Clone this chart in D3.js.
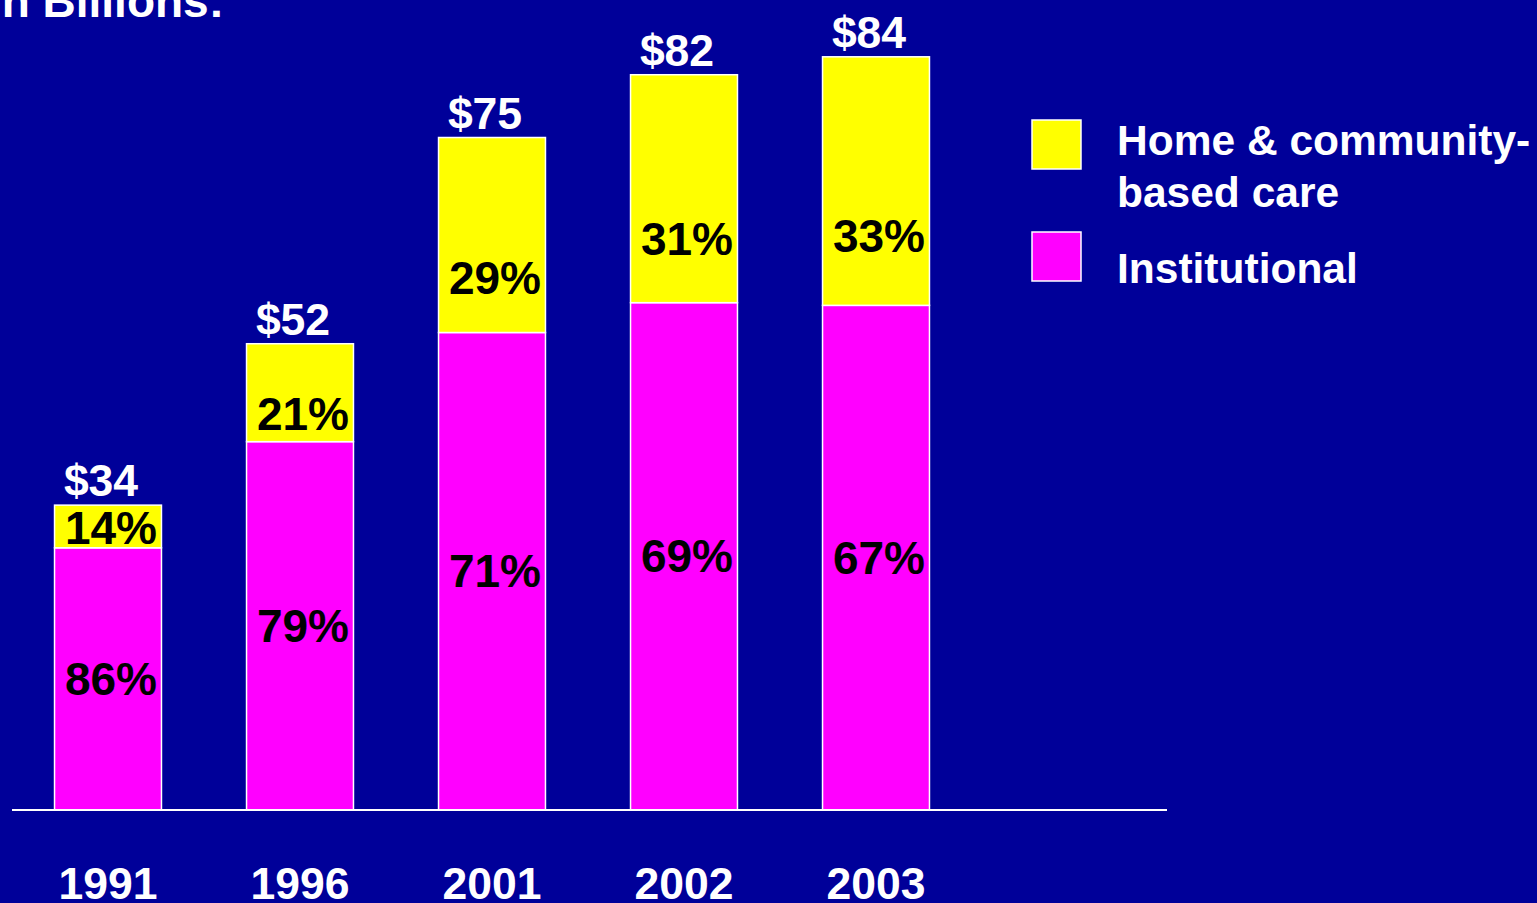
<!DOCTYPE html>
<html>
<head>
<meta charset="utf-8">
<script src="https://cdn.jsdelivr.net/npm/d3@7"></script>
<style>
  html, body { margin: 0; padding: 0; background: #000099; overflow: hidden; }
  svg { display: block; }
</style>
</head>
<body>
<div id="chart"></div>
<script>
// chart data
const years = ["1991", "1996", "2001", "2002", "2003"];
const totals = [34, 52, 75, 82, 84];
const institutionalPct = [86, 79, 71, 69, 67];
const homePct = [14, 21, 29, 31, 33];
const seriesNames = ["Home & community-based care", "Institutional"];

const width = 1537;
const height = 903;
const baseY = 810;

const svg = d3.select("#chart").append("svg")
    .attr("width", width)
    .attr("height", height)
    .style("font-family", "'Liberation Sans', Arial, sans-serif")
    .style("font-weight", "bold");

svg.append("rect")
    .attr("width", width)
    .attr("height", height)
    .attr("fill", "#000099");

// build rows from arrays
let data = years.map((y, i) => ({
    year: y,
    total: totals[i],
    inst: totals[i] * institutionalPct[i] / 100,
    instPct: institutionalPct[i],
    homePct: homePct[i]
}));

const xScale = d3.scaleBand()
    .domain(years)
    .range([12, 972])
    .paddingInner(0.443)
    .paddingOuter(0.2215);

const yScale = d3.scaleLinear()
    .domain([0, 90])
    .range([baseY, 3]);

const g = svg.append("g");

// institutional segment
g.selectAll(".inst")
    .data(data)
    .enter().append("rect")
        .attr("class", "inst")
        .attr("x", d => xScale(d.year))
        .attr("y", d => yScale(d.inst))
        .attr("width", xScale.bandwidth())
        .attr("height", d => yScale(0) - yScale(d.inst))
        .attr("fill", "#ff00ff")
        .attr("stroke", "#ffffff")
        .attr("stroke-width", 1.5);

// home & community segment
g.selectAll(".home")
    .data(data)
    .enter().append("rect")
        .attr("class", "home")
        .attr("x", d => xScale(d.year))
        .attr("y", d => yScale(d.total))
        .attr("width", xScale.bandwidth())
        .attr("height", d => yScale(d.inst) - yScale(d.total))
        .attr("fill", "#ffff00")
        .attr("stroke", "#ffffff")
        .attr("stroke-width", 1.5);

// baseline
g.append("line")
    .attr("x1", 12)
    .attr("x2", 1167)
    .attr("y1", baseY)
    .attr("y2", baseY)
    .attr("stroke", "#ffffff")
    .attr("stroke-width", 2);

// year labels (bottom axis, no lines) - cut at the bottom edge like the original
const xAxisG = g.append("g")
    .attr("transform", `translate(0,${baseY})`)
    .call(d3.axisBottom(xScale).tickSize(0).tickPadding(0));
xAxisG.select(".domain").remove();
xAxisG.selectAll("text")
    .attr("y", 89)
    .attr("dy", null)
    .attr("fill", "#ffffff")
    .attr("font-size", "44.5px")
    .attr("font-family", "'Liberation Sans', Arial, sans-serif")
    .attr("font-weight", "bold");

// total labels
g.selectAll(".total")
    .data(data)
    .enter().append("text")
        .attr("class", "total")
        .attr("x", d => xScale(d.year) + xScale.bandwidth() / 2 - 7)
        .attr("y", d => yScale(d.total) - 9)
        .attr("text-anchor", "middle")
        .attr("fill", "#ffffff")
        .attr("font-size", "44.5px")
        .text(d => "$" + d.total);

// percent labels
g.selectAll(".instPct")
    .data(data)
    .enter().append("text")
        .attr("class", "instPct")
        .attr("x", d => xScale(d.year) + xScale.bandwidth() / 2 + 3)
        .attr("y", d => (yScale(0) + yScale(d.inst)) / 2 + 16)
        .attr("text-anchor", "middle")
        .attr("fill", "#000000")
        .attr("font-size", "46px")
        .text(d => d.instPct + "%");

// home labels sit in the lower part of the yellow block, kept inside it
g.selectAll(".homePct")
    .data(data)
    .enter().append("text")
        .attr("class", "homePct")
        .attr("x", d => xScale(d.year) + xScale.bandwidth() / 2 + 3)
        .attr("y", d => {
            let top = yScale(d.total);
            let bottom = yScale(d.inst);
            let mid = Math.min(bottom - 0.28 * (bottom - top), bottom - 20);
            return mid + 16;
        })
        .attr("text-anchor", "middle")
        .attr("fill", "#000000")
        .attr("font-size", "46px")
        .text(d => d.homePct + "%");

// title, mostly cut off at the top
svg.append("text")
    .attr("x", 224)
    .attr("y", 17)
    .attr("text-anchor", "end")
    .attr("fill", "#ffffff")
    .attr("font-size", "46px")
    .text("In Billions:");

// legend
const legend = svg.append("g");

legend.append("rect")
    .attr("x", 1032)
    .attr("y", 120)
    .attr("width", 49)
    .attr("height", 49)
    .attr("fill", "#ffff00")
    .attr("stroke", "#ffffff")
    .attr("stroke-width", 1.5);

legend.append("rect")
    .attr("x", 1032)
    .attr("y", 232)
    .attr("width", 49)
    .attr("height", 49)
    .attr("fill", "#ff00ff")
    .attr("stroke", "#ffffff")
    .attr("stroke-width", 1.5);

legend.append("text")
    .attr("x", 1117)
    .attr("y", 155)
    .attr("fill", "#ffffff")
    .attr("font-size", "42.5px")
    .text("Home & community-");

legend.append("text")
    .attr("x", 1117)
    .attr("y", 207)
    .attr("fill", "#ffffff")
    .attr("font-size", "42.5px")
    .text("based care");

legend.append("text")
    .attr("x", 1117)
    .attr("y", 283)
    .attr("fill", "#ffffff")
    .attr("font-size", "42.5px")
    .text(seriesNames[1]);
</script>
</body>
</html>
